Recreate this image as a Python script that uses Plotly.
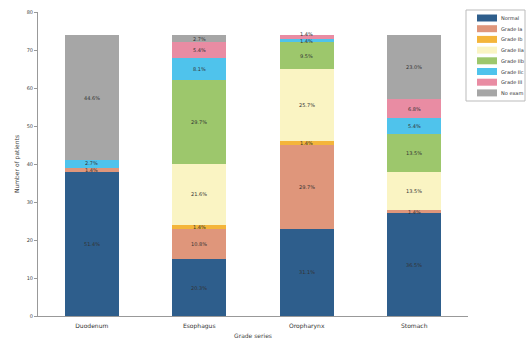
import plotly.graph_objects as go

categories = ["Duodenum", "Esophagus", "Oropharynx", "Stomach"]
series_names = ["Normal", "Grade Ia", "Grade Ib", "Grade IIa", "Grade IIb", "Grade IIc", "Grade III", "No exam"]
normal = [38, 15, 23, 27]
grade_ia = [1, 8, 22, 1]
grade_ib = [0, 1, 1, 0]
grade_iia = [0, 16, 19, 10]
grade_iib = [0, 22, 7, 10]
grade_iic = [2, 6, 1, 4]
grade_iii = [0, 4, 1, 5]
no_exam = [33, 2, 0, 17]
y_ticks = [0, 10, 20, 30, 40, 50, 60, 70, 80]

series_values = [normal, grade_ia, grade_ib, grade_iia, grade_iib, grade_iic, grade_iii, no_exam]
colors = ["#2E5E8C", "#DF967B", "#F4B53A", "#FAF4C3", "#9DC76C", "#4FC3EC", "#E98CA3", "#A6A6A6"]

totals = [sum(s[i] for s in series_values) for i in range(len(categories))]

W, H = 526, 343
ML, MR, MT, MB = 38, 58, 12, 27
plot_w = W - ML - MR
plot_h = H - MT - MB
y_max = 80
px_per_unit = plot_h / y_max

fig = go.Figure()
for name, vals, col in zip(series_names, series_values, colors):
    fig.add_trace(go.Bar(
        x=categories, y=vals, name=name, marker=dict(color=col, line=dict(width=0)),
        showlegend=False, width=0.5,
    ))

# percentage labels as annotations at segment centres, nudged apart when crowded
min_gap = 7.0
for ci, cat in enumerate(categories):
    cum = 0
    last_px = -1e9
    for vals in series_values:
        v = vals[ci]
        if v > 0:
            mid = cum + v / 2.0
            pos = mid * px_per_unit
            shift = 0.0
            if pos - last_px < min_gap:
                shift = last_px + min_gap - pos
            last_px = pos + shift
            fig.add_annotation(x=cat, y=mid, yshift=shift, text="%.1f%%" % (100.0 * v / totals[ci]),
                               showarrow=False, font=dict(size=5, color="#333333", family="DejaVu Sans"))
        cum += v

fig.update_layout(
    barmode="stack",
    width=W, height=H,
    margin=dict(l=ML, r=MR, t=MT, b=MB),
    plot_bgcolor="white", paper_bgcolor="white",
    font=dict(family="DejaVu Sans", size=6, color="#444444"),
    xaxis=dict(showline=True, linecolor="#999999", linewidth=1, ticks="", showgrid=False,
               tickfont=dict(size=6, color="#333333"), ticklabelstandoff=4, automargin=False,
               title=dict(text="Grade series", font=dict(size=6), standoff=4)),
    yaxis=dict(range=[0, y_max], tickvals=y_ticks, showline=True, linecolor="#999999", linewidth=1,
               ticks="outside", ticklen=3, tickcolor="#999999", showgrid=False, zeroline=False,
               tickfont=dict(size=5), automargin=False,
               title=dict(text="Number of patients", font=dict(size=6), standoff=6)),
)

# manual compact legend (paper coordinates)
def px(xp):
    return (xp - ML) / plot_w
def py(yp):
    return (H - MB - yp) / plot_h

fig.add_shape(type="rect", xref="paper", yref="paper",
              x0=px(466), x1=px(525), y0=py(101), y1=py(10),
              line=dict(color="#BBBBBB", width=1), fillcolor="white")
for i, (name, col) in enumerate(zip(series_names, colors)):
    yc = 18 + i * 10.7
    fig.add_shape(type="rect", xref="paper", yref="paper",
                  x0=px(477), x1=px(497), y0=py(yc + 3.5), y1=py(yc - 3.5),
                  line=dict(width=0), fillcolor=col)
    fig.add_annotation(xref="paper", yref="paper", x=px(499), y=py(yc), text=name,
                       showarrow=False, xanchor="left", yanchor="middle",
                       font=dict(size=5, color="#333333"))

fig.write_html("out.html")
